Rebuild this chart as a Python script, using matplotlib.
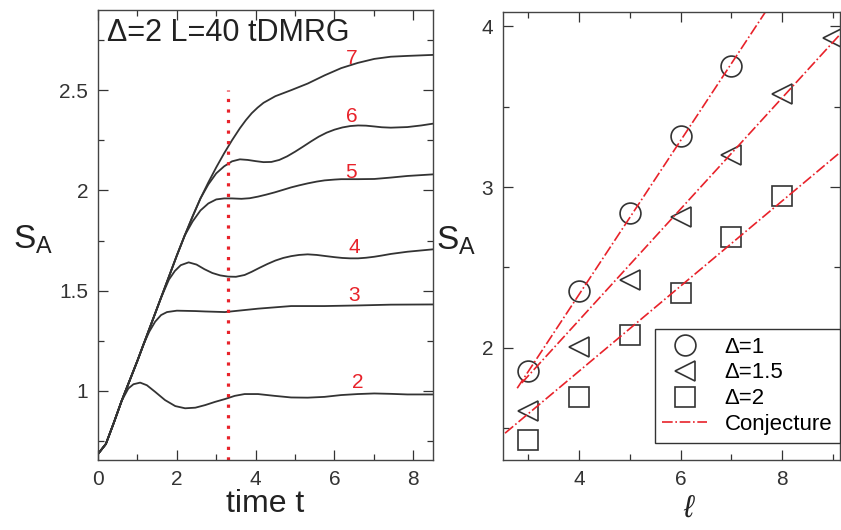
import numpy as np
import matplotlib.pyplot as plt
from matplotlib.ticker import MultipleLocator, FuncFormatter

plt.rcParams['font.family'] = ['Liberation Sans', 'DejaVu Sans']
plt.rcParams['mathtext.fontset'] = 'custom'
plt.rcParams['mathtext.rm'] = 'Liberation Sans'
plt.rcParams['mathtext.it'] = 'Liberation Sans:italic'

# ---------------- dados: painel esquerdo (tDMRG, Delta=2, L=40) ----------------
# subida inicial comum a todos os blocos
t_rise = [0.0, 0.2, 0.4, 0.6, 0.8, 1.0, 1.2, 1.4, 1.6, 1.8, 2.0, 2.2, 2.4, 2.6]
s_rise = [0.685, 0.735, 0.84, 0.95, 1.05, 1.15, 1.255, 1.36, 1.465, 1.57, 1.675, 1.775, 1.87, 1.96]

# tempo em que cada curva deixa a subida comum
blocks = [2, 3, 4, 5, 6, 7]
t_split = [0.6, 1.0, 1.6, 2.2, 2.6, 2.6]

t_tail = {
    2: [0.77, 0.9, 1.07, 1.24, 1.45, 1.70, 1.96, 2.21, 2.47, 2.72, 2.97, 3.22, 3.47, 3.72,
        4.06, 4.48, 4.9, 5.32, 5.75, 6.17, 6.59, 7.01, 7.43, 7.85, 8.5],
    3: [1.15, 1.3, 1.45, 1.6, 1.75, 2.0, 2.47, 2.72, 3.22, 4.06, 4.9, 5.75, 6.59, 7.43, 8.5],
    4: [1.8, 1.95, 2.1, 2.3, 2.5, 2.7, 2.9, 3.1, 3.3, 3.5, 3.72, 3.9, 4.1, 4.3, 4.5, 4.7,
        4.9, 5.1, 5.32, 5.55, 5.75, 6.0, 6.2, 6.4, 6.6, 6.8, 7.01, 7.2, 7.43, 7.85, 8.5],
    5: [2.4, 2.6, 2.8, 3.0, 3.2, 3.4, 3.64, 3.85, 4.06, 4.27, 4.48, 4.7, 4.9, 5.1, 5.32,
        5.55, 5.75, 6.0, 6.17, 6.59, 7.01, 7.43, 7.85, 8.5],
    6: [2.8, 3.0, 3.2, 3.4, 3.6, 3.8, 4.0, 4.2, 4.4, 4.6, 4.8, 5.0, 5.2, 5.41, 5.6, 5.8,
        6.0, 6.2, 6.4, 6.6, 6.8, 7.01, 7.2, 7.43, 7.85, 8.2, 8.5],
    7: [2.8, 3.0, 3.2, 3.4, 3.6, 3.75, 3.9, 4.05, 4.2, 4.5, 4.9, 5.32, 5.75, 6.17, 6.59,
        7.01, 7.43, 7.85, 8.5],
}
s_tail = {
    2: [1.012, 1.033, 1.041, 1.028, 0.995, 0.954, 0.924, 0.913, 0.916, 0.929, 0.945, 0.959,
        0.975, 0.984, 0.984, 0.975, 0.967, 0.966, 0.97, 0.979, 0.984, 0.987, 0.985, 0.982, 0.982],
    3: [1.23, 1.295, 1.345, 1.378, 1.393, 1.40, 1.398, 1.396, 1.393, 1.41, 1.423, 1.423,
        1.426, 1.43, 1.431],
    4: [1.555, 1.598, 1.627, 1.641, 1.63, 1.607, 1.588, 1.576, 1.57, 1.569, 1.578, 1.594,
        1.614, 1.633, 1.65, 1.663, 1.672, 1.678, 1.681, 1.678, 1.673, 1.667, 1.663, 1.661,
        1.661, 1.664, 1.669, 1.675, 1.683, 1.694, 1.706],
    5: [1.845, 1.90, 1.935, 1.955, 1.96, 1.96, 1.958, 1.961, 1.969, 1.979, 1.99, 2.003,
        2.015, 2.025, 2.035, 2.044, 2.05, 2.054, 2.056, 2.056, 2.057, 2.064, 2.072, 2.08],
    6: [2.03, 2.085, 2.12, 2.145, 2.155, 2.152, 2.146, 2.141, 2.142, 2.152, 2.17, 2.193,
        2.218, 2.245, 2.268, 2.288, 2.303, 2.314, 2.321, 2.324, 2.323, 2.319, 2.315, 2.313,
        2.316, 2.324, 2.333],
    7: [2.04, 2.115, 2.185, 2.25, 2.31, 2.35, 2.385, 2.413, 2.437, 2.47, 2.50, 2.533, 2.574,
        2.61, 2.636, 2.656, 2.667, 2.671, 2.676],
}

t_cut = 3.3        # linha vertical pontilhada
s_cut_top = 2.5

# ---------------- dados: painel direito (S_A x ell) ----------------
ell_d1 = [3, 4, 5, 6, 7]
s_d1 = [1.855, 2.353, 2.841, 3.315, 3.751]
ell_d15 = [3, 4, 5, 6, 7, 8, 9]
s_d15 = [1.607, 2.006, 2.422, 2.816, 3.20, 3.579, 3.928]
ell_d2 = [3, 4, 5, 6, 7, 8]
s_d2 = [1.425, 1.695, 2.079, 2.339, 2.688, 2.941]

# retas da conjectura (extremos)
conj_ell = [[2.78, 7.67], [2.87, 9.14], [2.54, 9.14]]
conj_s = [[1.747, 4.09], [1.78, 3.95], [1.467, 3.215]]

# ---------------- figura ----------------
fig = plt.figure(figsize=(8.41, 5.30), dpi=100)
ax1 = fig.add_axes([98 / 841, 70 / 530, 335 / 841, 450 / 530])
ax2 = fig.add_axes([503 / 841, 70 / 530, 337 / 841, 448 / 530])

preto = '#333333'
vermelho = '#e8222a'
fmt = FuncFormatter(lambda v, p: f'{v:g}')

for ax in (ax1, ax2):
    ax.tick_params(which='both', direction='in', top=True, right=True,
                   labelsize=15, colors=preto, pad=7)
    ax.tick_params(which='major', length=7, width=0.9)
    ax.tick_params(which='minor', length=4, width=0.9)
    for sp in ax.spines.values():
        sp.set_color('#444444')
        sp.set_linewidth(1.0)
    ax.xaxis.set_major_formatter(fmt)
    ax.yaxis.set_major_formatter(fmt)

# painel esquerdo
for b, ts in zip(blocks, t_split):
    n = t_rise.index(ts) + 1
    tt = np.array(t_rise[:n] + t_tail[b])
    ss = np.array(s_rise[:n] + s_tail[b])
    ax1.plot(tt, ss, color=preto, lw=1.3)

ax1.plot([t_cut, t_cut], [0.655, s_cut_top], color=vermelho, lw=2.3,
         linestyle=(0, (1, 2.3)))

label_t = [6.58, 6.5, 6.5, 6.43, 6.43, 6.43]
label_s = [1.04, 1.478, 1.716, 2.09, 2.368, 2.657]
for b, x, y in zip(blocks, label_t, label_s):
    ax1.text(x, y, str(b), color=vermelho, fontsize=15, ha='center', va='center')

ax1.text(0.027, 0.949, '\u0394=2 L=40 tDMRG', transform=ax1.transAxes,
         fontsize=22, ha='left', va='center', color='#222222')

ax1.set_xlim(0, 8.5)
ax1.set_ylim(0.655, 2.9)
ax1.xaxis.set_major_locator(MultipleLocator(2))
ax1.xaxis.set_minor_locator(MultipleLocator(1))
ax1.yaxis.set_major_locator(MultipleLocator(0.5))
ax1.yaxis.set_minor_locator(MultipleLocator(0.25))
ax1.set_xlabel('time t', fontsize=23, color='#222222', labelpad=0)
ax1.set_ylabel(r'S$_\mathregular{A}$', fontsize=24, rotation=0, color='#222222',
               ha='center', va='center')
ax1.yaxis.set_label_coords(-0.195, 0.49)

# painel direito
mk = dict(ls='none', mfc='none', mec=preto, mew=1.2)
ax2.plot(ell_d1, s_d1, marker='o', ms=15, label='\u0394=1', **mk)
ax2.plot(ell_d15, s_d15, marker='<', ms=15, label='\u0394=1.5', **mk)
ax2.plot(ell_d2, s_d2, marker='s', ms=14, label='\u0394=2', **mk)
for i, (xe, ye) in enumerate(zip(conj_ell, conj_s)):
    ax2.plot(xe, ye, color=vermelho, lw=1.2, ls='-.',
             label='Conjecture' if i == 0 else None)

ax2.set_xlim(2.5, 9.14)
ax2.set_ylim(1.3, 4.09)
ax2.xaxis.set_major_locator(MultipleLocator(2))
ax2.xaxis.set_minor_locator(MultipleLocator(1))
ax2.yaxis.set_major_locator(MultipleLocator(1))
ax2.yaxis.set_minor_locator(MultipleLocator(0.5))
ax2.set_xlabel(r'$\ell$', fontsize=22, color='#222222', labelpad=0)
ax2.xaxis.set_label_coords(0.555, -0.075)
ax2.set_ylabel(r'S$_\mathregular{A}$', fontsize=24, rotation=0, color='#222222',
               ha='center', va='center')
ax2.yaxis.set_label_coords(-0.14, 0.49)

leg = ax2.legend(loc='lower right', bbox_to_anchor=(1.0, 0.038), fontsize=16,
                 frameon=True, fancybox=False, edgecolor='#333333', framealpha=1,
                 handlelength=2.0, handletextpad=0.8, borderpad=0.35,
                 labelspacing=0.22, borderaxespad=0)
leg.get_frame().set_linewidth(1.0)

fig.savefig('out.png', dpi=100)
